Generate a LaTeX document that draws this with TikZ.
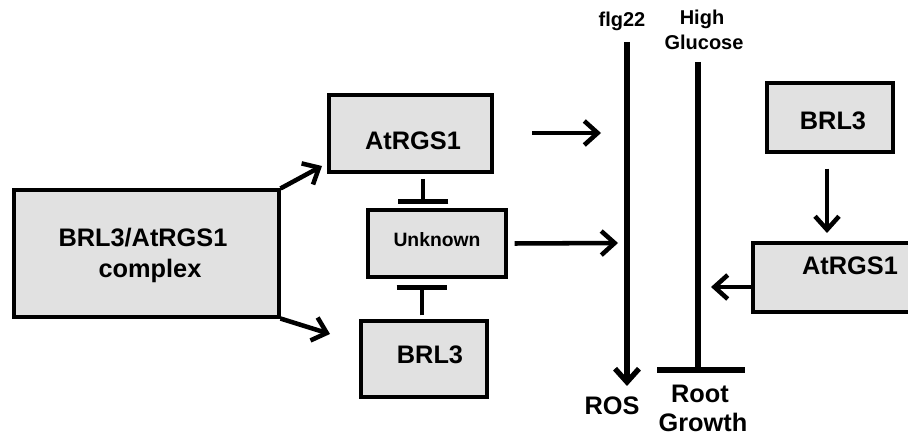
\documentclass[tikz,border=0pt]{standalone}
\usepackage{fontspec}
\setmainfont{Liberation Sans}
\usetikzlibrary{arrows.meta}
\definecolor{boxgray}{HTML}{E1E1E1}
\begin{document}
\begin{tikzpicture}[x=0.75pt,y=-0.75pt,
  box/.style={draw=black,line width=2.3pt,fill=boxgray,inner sep=0pt,rectangle},
  lbl/.style={inner sep=0pt,anchor=base,font=\bfseries\fontsize{19}{23}\selectfont},
  small/.style={inner sep=0pt,anchor=base,font=\bfseries\fontsize{15}{19}\selectfont},
  arr/.style={line width=3.4pt,-{Straight Barb[length=10pt,width=18pt]}},
  inh/.style={line width=3.4pt,-{Bar[width=38pt]}},
  path/.style={line width=4pt}
]
\useasboundingbox[fill=white] (0,0) rectangle (908,438);

% boxes
\node[box,minimum width=198.75pt,minimum height=95.25pt] (cplx) at (146.5,253.5) {};
\node[box,minimum width=122.25pt,minimum height=57.75pt] (at1) at (410.5,133.5) {};
\node[box,minimum width=103.5pt,minimum height=50.25pt] (unk) at (437,243.5) {};
\node[box,minimum width=94.5pt,minimum height=57pt] (brl) at (424,359) {};
\node[box,minimum width=94.5pt,minimum height=51.75pt] (brlR) at (830,117.5) {};
\node[box,minimum width=121.5pt,minimum height=51.75pt] (atR) at (834,277.5) {};

% texts
\node[lbl,font=\bfseries\fontsize{19}{23}\selectfont] (t1) at (143,247) {BRL3/AtRGS1};
\node[lbl,font=\bfseries\fontsize{19}{23}\selectfont] (t2) at (150,278) {complex};
\node[lbl] (t3) at (413,150) {AtRGS1};
\node[lbl,font=\bfseries\fontsize{14.5}{18}\selectfont] (t4) at (437,247) {Unknown};
\node[lbl] (t5) at (430,364) {BRL3};
\node[lbl] (t6) at (833,130) {BRL3};
\node[lbl] (t7) at (850,275) {AtRGS1};
\node[small] (flg) at (622,27) {flg22};
\node[small] (high) at (702,25) {High};
\node[small] (glu) at (704,50) {Glucose};
\node[lbl] (ros) at (612,415) {ROS};
\node[lbl] (root) at (700,403) {Root};
\node[lbl] (grow) at (703,432) {Growth};

% coordinates on the pathway lines
\coordinate (flgtop) at (627,42);
\coordinate (rosend) at (627,386);
\coordinate (gtop) at (698,62);
\coordinate (gbot) at (698,370);
\coordinate (barL) at (657,370);
\coordinate (barR) at (745,370);
\coordinate (a1s) at (532,133);
\coordinate (a1e) at (601,133);
\coordinate (a2e) at (618,243);
\coordinate (a3e) at (711,287);
\coordinate (c1e) at (322,166);
\coordinate (c2e) at (330,334);
\coordinate (i1e) at (423,204);
\coordinate (i2e) at (422,285);

% vertical pathways
\draw[path,-{Straight Barb[length=10pt,width=18pt]}] (flgtop) -- (rosend);
\draw[path] (gtop) -- (gbot);
\draw[line width=4pt] (barL) -- (barR);

% connectors
\draw[arr] (cplx.north east) -- (c1e);
\draw[arr] (cplx.south east) -- (c2e);
\draw[arr] (a1s) -- (a1e);
\draw[arr] (unk.east) ++(7,0) coordinate (a2s) -- (a2e);
\draw[inh,shorten <=4pt] (at1.south -| i1e) -- (i1e);
\draw[inh,shorten <=3pt] (brl.north -| i2e) -- (i2e);
\draw[arr] (brlR.south -| 827,0) ++(0,15) coordinate (b1s) -- (827,233) coordinate (b1e);
\draw[arr] (atR.west |- a3e) -- (a3e);
\end{tikzpicture}
\end{document}
